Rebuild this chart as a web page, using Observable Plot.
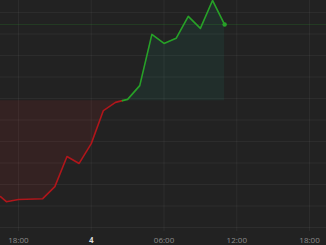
<!DOCTYPE html>
<html>
<head>
<meta charset="utf-8">
<script src="https://cdn.jsdelivr.net/npm/d3@7"></script>
<script src="https://cdn.jsdelivr.net/npm/@observablehq/plot@0.6"></script>
<style>
  html, body { margin: 0; padding: 0; background: #222222; }
  #chart { width: 326px; height: 245px; overflow: hidden; }
</style>
</head>
<body>
<div id="chart"></div>
<script>
// Data (UTC timestamps, values)
const times = [
  "2024-01-03T16:31", "2024-01-03T17:00", "2024-01-03T18:00", "2024-01-03T20:00",
  "2024-01-03T21:00", "2024-01-03T22:00", "2024-01-03T23:00", "2024-01-04T00:00",
  "2024-01-04T01:00", "2024-01-04T02:00", "2024-01-04T03:00", "2024-01-04T04:00",
  "2024-01-04T05:00", "2024-01-04T06:00", "2024-01-04T07:00", "2024-01-04T08:00",
  "2024-01-04T09:00", "2024-01-04T10:00", "2024-01-04T11:00"
];
const values = [
  7.72, 7.60, 7.65, 7.67,
  7.95, 8.65, 8.49, 8.95,
  9.72, 9.91, 9.98, 10.30,
  11.49, 11.28, 11.40, 11.91,
  11.63, 12.28, 11.72
];
const baseline = 9.95;
const xDomain = ["2024-01-03T16:31", "2024-01-04T19:24"];
const yDomain = [6.907, 12.279];
const tickTimes = ["2024-01-03T18:00", "2024-01-04T06:00", "2024-01-04T12:00", "2024-01-04T18:00"];
const tickLabels = ["18:00", "06:00", "12:00", "18:00"];
const dayTick = ["2024-01-04T00:00"];
const dayLabel = ["4"];
const gridValues = [7, 7.5, 8, 8.5, 9, 9.5, 10, 10.5, 11, 11.5, 12];

const D = s => new Date(s + "Z");
const data = times.map((t, i) => ({t: D(t), v: values[i]}));

// split into below/above baseline segments at the crossing
const below = [], above = [];
for (let i = 0; i < data.length; i++) {
  const d = data[i];
  if (d.v < baseline) below.push(d); else above.push(d);
  if (i < data.length - 1) {
    const n = data[i + 1];
    if ((d.v < baseline) !== (n.v < baseline)) {
      const f = (baseline - d.v) / (n.v - d.v);
      const c = {t: new Date(+d.t + f * (n.t - d.t)), v: baseline};
      below.push(c); above.push(c);
    }
  }
}
const last = data[data.length - 1];
const allTicks = tickTimes.concat(dayTick).map(D);

const plot = Plot.plot({
  width: 326,
  height: 245,
  marginLeft: 0,
  marginRight: 0,
  marginTop: 0,
  marginBottom: 14,
  style: {background: "#222222", fontFamily: "'Open Sans', sans-serif", overflow: "hidden"},
  x: {type: "utc", domain: xDomain.map(D), label: null},
  y: {domain: yDomain, axis: null, label: null},
  marks: [
    Plot.ruleY(gridValues, {stroke: "#ffffff", strokeOpacity: 0.05}),
    Plot.ruleX(allTicks, {stroke: "#ffffff", strokeOpacity: 0.05}),
    Plot.areaY(below, {x: "t", y1: baseline, y2: "v", fill: "#c0262b", fillOpacity: 0.12, curve: "linear"}),
    Plot.areaY(above, {x: "t", y1: baseline, y2: "v", fill: "#1fa080", fillOpacity: 0.1, curve: "linear"}),
    Plot.ruleY([last.v], {stroke: "#2e9a2e", strokeOpacity: 0.22, strokeWidth: 1}),
    Plot.line(below, {x: "t", y: "v", stroke: "#b0161b", strokeWidth: 1.6}),
    Plot.line(above, {x: "t", y: "v", stroke: "#27a127", strokeWidth: 1.6}),
    Plot.dot([last], {x: "t", y: "v", r: 2.2, fill: "#27a127"}),
    Plot.axisX(tickTimes.map(D), {
      label: null, tickSize: 0, tickPadding: 6, fontSize: 8, fill: "#8a8a8a",
      tickFormat: (d, i) => tickLabels[i]
    }),
    Plot.axisX(dayTick.map(D), {
      label: null, tickSize: 0, tickPadding: 6, fontSize: 8, fill: "#dddddd", fontWeight: "bold",
      tickFormat: (d, i) => dayLabel[i]
    })
  ]
});
document.getElementById("chart").appendChild(plot);
</script>
</body>
</html>
